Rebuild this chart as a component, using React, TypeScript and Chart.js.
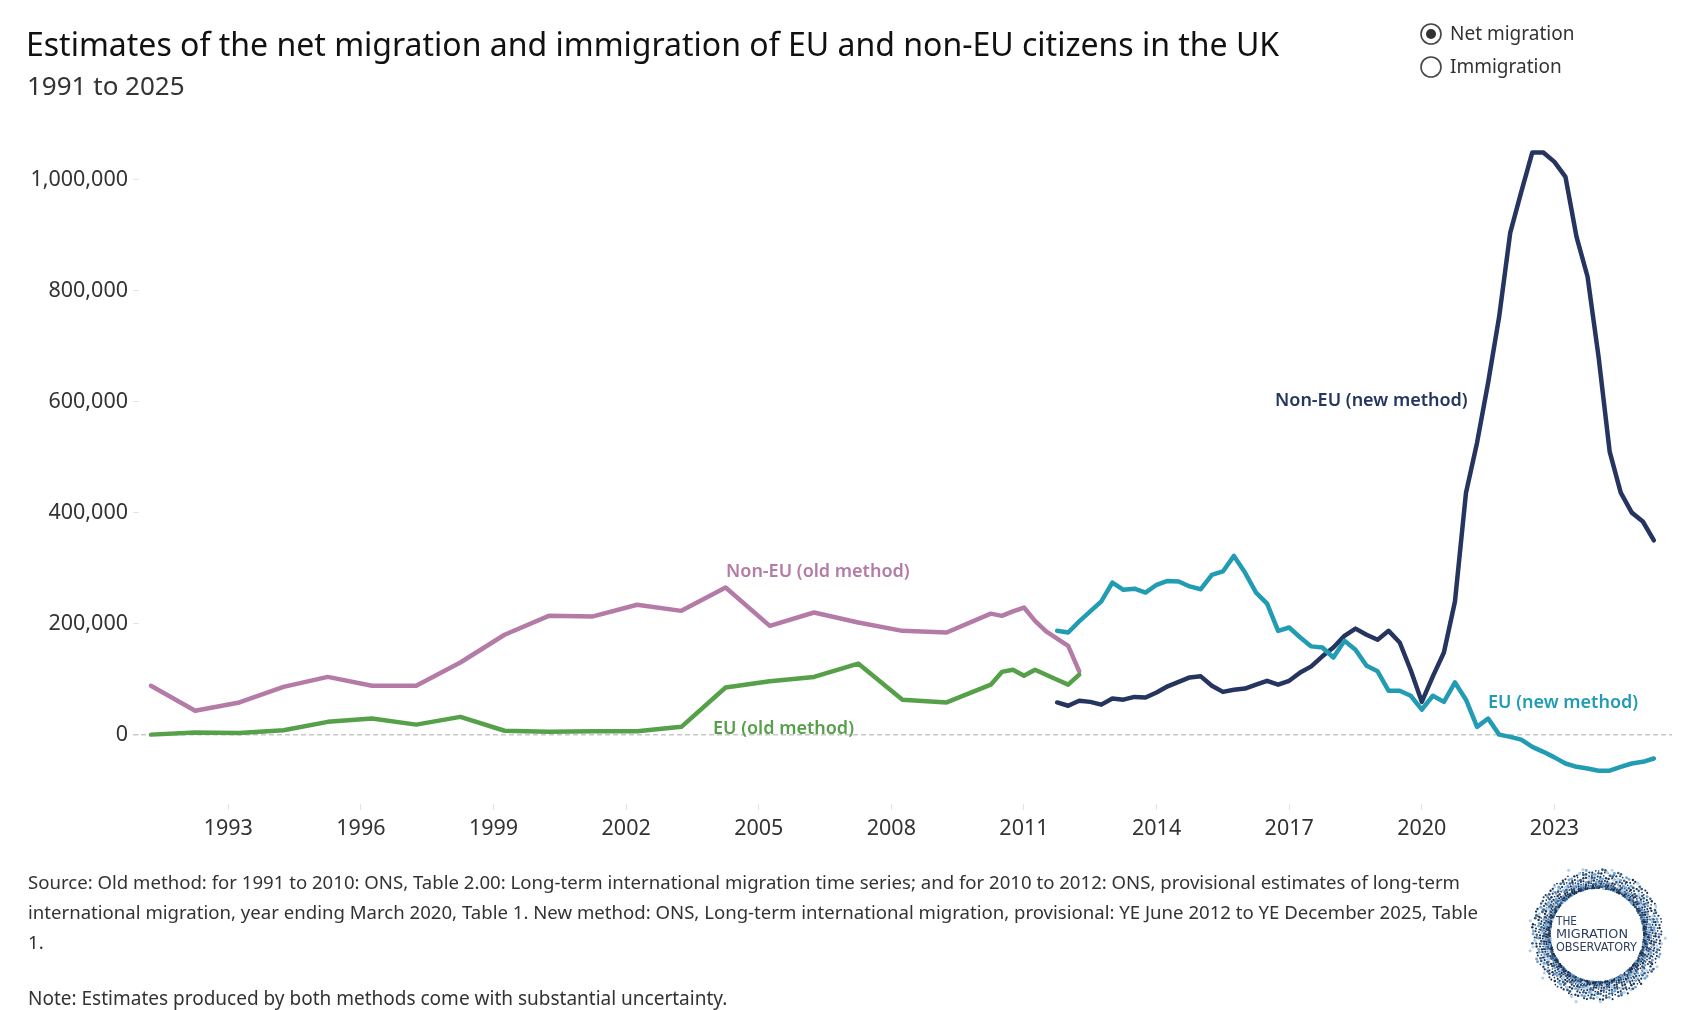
import React, { useEffect, useRef } from "react";
import { Chart, registerables } from "chart.js";

Chart.register(...registerables);

// ---------- DATA (thousands) ----------
// Old method, annual calendar years (year ending December)
const oldAnnualYears = [1991, 1992, 1993, 1994, 1995, 1996, 1997, 1998, 1999, 2000, 2001, 2002, 2003, 2004, 2005, 2006, 2007, 2008, 2009, 2010];
const nonEuOldAnnual = [88, 43, 58, 86, 104, 88, 88, 130, 180, 214, 213, 234, 223, 265, 196, 220, 202, 187, 184, 218];
const euOldAnnual = [0, 4, 3, 8, 23, 29, 18, 32, 7, 5, 6, 6, 14, 85, 96, 104, 128, 63, 58, 90];

// Old method, provisional quarterly estimates (year ending)
const oldProvPeriods = ["Mar 2011", "Jun 2011", "Sep 2011", "Dec 2011", "Mar 2012", "Jun 2012", "Sep 2012", "Dec 2012"];
const nonEuOldProv = [214, 222, 229, 205, 186, 173, 160, 114];
const euOldProv = [113, 117, 106, 117, 108, 99, 90, 108];

// New method, quarterly (year ending)
const newPeriods = [
  "Jun 2012", "Sep 2012", "Dec 2012",
  "Mar 2013", "Jun 2013", "Sep 2013", "Dec 2013",
  "Mar 2014", "Jun 2014", "Sep 2014", "Dec 2014",
  "Mar 2015", "Jun 2015", "Sep 2015", "Dec 2015",
  "Mar 2016", "Jun 2016", "Sep 2016", "Dec 2016",
  "Mar 2017", "Jun 2017", "Sep 2017", "Dec 2017",
  "Mar 2018", "Jun 2018", "Sep 2018", "Dec 2018",
  "Mar 2019", "Jun 2019", "Sep 2019", "Dec 2019",
  "Mar 2020", "Jun 2020", "Sep 2020", "Dec 2020",
  "Mar 2021", "Jun 2021", "Sep 2021", "Dec 2021",
  "Mar 2022", "Jun 2022", "Sep 2022", "Dec 2022",
  "Mar 2023", "Jun 2023", "Sep 2023", "Dec 2023",
  "Mar 2024", "Jun 2024", "Sep 2024", "Dec 2024",
  "Mar 2025", "Jun 2025", "Sep 2025", "Dec 2025",
];
const nonEuNew = [
  58, 52, 61, 59, 54, 65, 63, 68, 67, 76, 87, 95, 103, 105, 88, 77, 81, 83, 90, 97,
  90, 97, 112, 123, 141, 157, 178, 191, 180, 171, 187, 166, 116, 59, 105, 148, 240, 436, 526, 634,
  753, 904, 978, 1049, 1049, 1032, 1005, 897, 825, 680, 510, 436, 400, 384, 350,
];
const euNew = [
  187, 184, 204, 222, 240, 274, 261, 263, 256, 270, 277, 276, 267, 262, 288, 294, 322, 292, 256, 236,
  187, 193, 175, 159, 157, 139, 169, 153, 124, 114, 79, 79, 70, 45, 70, 59, 94, 63, 14, 29,
  0, -4, -9, -22, -31, -41, -52, -58, -61, -65, -65, -58, -52, -49, -43,
];

const xTickYears = [1993, 1996, 1999, 2002, 2005, 2008, 2011, 2014, 2017, 2020, 2023];
const yTicks = [0, 200000, 400000, 600000, 800000, 1000000];

const COLORS = {
  nonEuOld: "#b47ba7",
  euOld: "#56a04a",
  nonEuNew: "#253560",
  euNew: "#229cb3",
};

const MONTHS: Record<string, number> = { Mar: 3, Jun: 6, Sep: 9, Dec: 12 };
// position on the time axis = end of the 12-month period, in decimal years
const periodToT = (p: string) => {
  const [m, y] = p.split(" ");
  return Number(y) + MONTHS[m] / 12;
};
const annualToT = (y: number) => y + 1;

const fmt = (v: number) => String(Math.round(v)).replace(/\B(?=(\d{3})+(?!\d))/g, ",");

const zeroLinePlugin = {
  id: "zeroLine",
  beforeDatasetsDraw(chart: any) {
    const { ctx, chartArea, scales } = chart;
    const y = scales.y.getPixelForValue(0);
    ctx.save();
    ctx.strokeStyle = "#c9c9c9";
    ctx.lineWidth = 1.5;
    ctx.setLineDash([5, 3]);
    ctx.beginPath();
    ctx.moveTo(chartArea.left - 6, y);
    ctx.lineTo(chartArea.right, y);
    ctx.stroke();
    ctx.restore();
  },
};

function logoDots() {
  const out: { x: number; y: number; r: number; c: string }[] = [];
  const cx = 80, cy = 78;
  for (let i = 0; i < 1300; i++) {
    const a = i * 2.399963;
    const u = (i * 0.7548776662) % 1;
    const w = (i * 0.569840291) % 1;
    const rr = 47 + 19 * Math.pow(u, 1.9) + (w > 0.92 ? 10 * (w - 0.9) * 6 : 0);
    const c = w < 0.55 ? "#1c3050" : w < 0.75 ? "#325d8a" : w < 0.9 ? "#6fa3d2" : "#b3d1ec";
    out.push({ x: cx + rr * Math.cos(a), y: cy + rr * Math.sin(a), r: 0.8 + 0.8 * w, c });
  }
  return out;
}
const DOTS = logoDots();

function MigrationChart() {
  const ref = useRef<HTMLCanvasElement | null>(null);
  useEffect(() => {
    if (!ref.current) return;
    const line = (label: string, color: string, data: { x: number; y: number }[]) => ({
      label,
      data,
      borderColor: color,
      backgroundColor: color,
      borderWidth: 4.5,
      pointRadius: 0,
      tension: 0,
      borderJoinStyle: "round" as const,
      borderCapStyle: "round" as const,
    });
    const nonEuOldData = [
      ...oldAnnualYears.map((y, i) => ({ x: annualToT(y), y: nonEuOldAnnual[i] * 1000 })),
      ...oldProvPeriods.map((p, i) => ({ x: periodToT(p), y: nonEuOldProv[i] * 1000 })),
    ];
    const euOldData = [
      ...oldAnnualYears.map((y, i) => ({ x: annualToT(y), y: euOldAnnual[i] * 1000 })),
      ...oldProvPeriods.map((p, i) => ({ x: periodToT(p), y: euOldProv[i] * 1000 })),
    ];
    const nonEuNewData = newPeriods.map((p, i) => ({ x: periodToT(p), y: nonEuNew[i] * 1000 }));
    const euNewData = newPeriods.map((p, i) => ({ x: periodToT(p), y: euNew[i] * 1000 }));

    const tickFont = { family: "'Noto Sans', sans-serif", size: 21.5 };
    const chart = new Chart(ref.current, {
      type: "line",
      data: {
        datasets: [
          line("EU (old method)", COLORS.euOld, euOldData),
          line("Non-EU (old method)", COLORS.nonEuOld, nonEuOldData),
          line("EU (new method)", COLORS.euNew, euNewData),
          line("Non-EU (new method)", COLORS.nonEuNew, nonEuNewData),
        ],
      },
      options: {
        animation: false,
        responsive: false,
        layout: { padding: { top: 138, right: 16, bottom: 162, left: 0 } },
        plugins: {
          legend: { display: false },
          tooltip: { enabled: false },
        },
        scales: {
          x: {
            type: "linear",
            min: 1991.73,
            max: 2026.41,
            afterBuildTicks: (s: any) => {
              s.ticks = xTickYears.map((y) => ({ value: y + 0.75 }));
            },
            afterFit: (s: any) => {
              s.height = 44;
            },
            ticks: {
              autoSkip: false,
              maxRotation: 0,
              padding: 6,
              color: "#333",
              font: tickFont,
              callback: (v: any) => String(Math.round(Number(v) - 0.75)),
            },
            grid: { drawOnChartArea: false, drawTicks: true, tickLength: 6, color: "#e2e2e2" },
            border: { display: false },
          },
          y: {
            type: "linear",
            min: -125000,
            max: 1075000,
            afterBuildTicks: (s: any) => {
              s.ticks = yTicks.map((v) => ({ value: v }));
            },
            afterFit: (s: any) => {
              s.width = 139;
            },
            ticks: {
              padding: 5,
              color: "#333",
              font: tickFont,
              callback: (v: any) => fmt(Number(v)),
            },
            grid: { drawOnChartArea: false, drawTicks: true, tickLength: 6, color: "#e2e2e2" },
            border: { display: false },
          },
        },
      },
      plugins: [zeroLinePlugin],
    } as any);
    return () => chart.destroy();
  }, []);
  return <canvas ref={ref} width={1688} height={1010} style={{ position: "absolute", left: 0, top: 0 }} />;
}

const labelStyle = (left: number, top: number, color: string): React.CSSProperties => ({
  position: "absolute",
  left,
  top,
  color,
  fontSize: 18,
  fontWeight: 600,
  lineHeight: 1,
  whiteSpace: "nowrap",
});

export default function App() {
  return (
    <div
      style={{
        position: "fixed",
        left: 0,
        top: 0,
        width: 1688,
        height: 1010,
        background: "#fff",
        overflow: "hidden",
        fontFamily: "'Noto Sans', sans-serif",
      }}
    >
      <MigrationChart />
      <div style={{ position: "absolute", left: 26, top: 22, fontSize: 32, color: "#111", whiteSpace: "nowrap" }}>
        Estimates of the net migration and immigration of EU and non-EU citizens in the UK
      </div>
      <div style={{ position: "absolute", left: 27, top: 67, fontSize: 26, color: "#333", whiteSpace: "nowrap" }}>
        1991 to 2025
      </div>

      <svg style={{ position: "absolute", left: 1418, top: 21 }} width={26} height={60}>
        <circle cx={13} cy={13} r={10} fill="#fff" stroke="#444" strokeWidth={1.6} />
        <circle cx={13} cy={13} r={5} fill="#333" />
        <circle cx={13} cy={46} r={10} fill="#fff" stroke="#444" strokeWidth={1.6} />
      </svg>
      <div style={{ position: "absolute", left: 1450, top: 24, fontSize: 19, lineHeight: 1, color: "#333" }}>Net migration</div>
      <div style={{ position: "absolute", left: 1450, top: 57, fontSize: 19, lineHeight: 1, color: "#333" }}>Immigration</div>

      <div style={labelStyle(726, 561, COLORS.nonEuOld)}>Non-EU (old method)</div>
      <div style={labelStyle(713, 718, COLORS.euOld)}>EU (old method)</div>
      <div style={labelStyle(1275, 390, COLORS.nonEuNew)}>Non-EU (new method)</div>
      <div style={labelStyle(1488, 692, COLORS.euNew)}>EU (new method)</div>

      <div style={{ position: "absolute", left: 28, top: 867, fontSize: 18.6, lineHeight: "30px", color: "#333", whiteSpace: "nowrap" }}>
        <div>
          Source: Old method: for 1991 to 2010: ONS, Table 2.00: Long-term international migration time series; and for 2010 to 2012: ONS, provisional estimates of long-term
        </div>
        <div>
          international migration, year ending March 2020, Table 1. New method: ONS, Long-term international migration, provisional: YE June 2012 to YE December 2025, Table
        </div>
        <div>1.</div>
      </div>
      <div style={{ position: "absolute", left: 28, top: 983, fontSize: 19, lineHeight: "30px", color: "#333", whiteSpace: "nowrap" }}>
        Note: Estimates produced by both methods come with substantial uncertainty.
      </div>

      <svg style={{ position: "absolute", left: 1517, top: 857 }} width={160} height={156}>
        {DOTS.map((d, i) => (
          <circle key={i} cx={d.x} cy={d.y} r={d.r} fill={d.c} />
        ))}
        <g fill="#2b3c5c" fontFamily="'DejaVu Sans Condensed', 'Liberation Sans Narrow', sans-serif" fontSize={12.5}>
          <text x={39} y={68} textLength={21} lengthAdjust="spacingAndGlyphs">THE</text>
          <text x={39} y={81} textLength={72} lengthAdjust="spacingAndGlyphs">MIGRATION</text>
          <text x={39} y={94} textLength={81} lengthAdjust="spacingAndGlyphs">OBSERVATORY</text>
        </g>
      </svg>
    </div>
  );
}
